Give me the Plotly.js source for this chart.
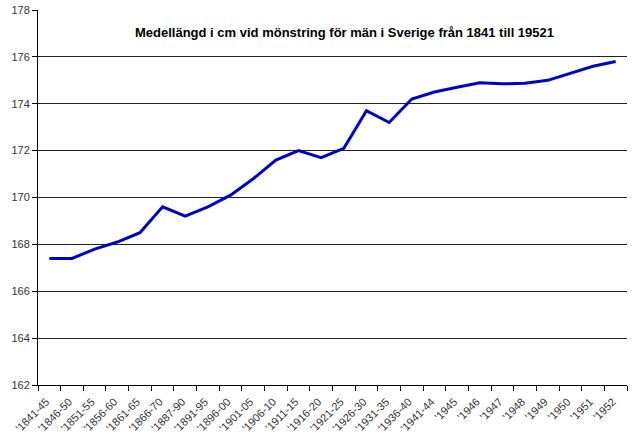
<!DOCTYPE html>
<html><head><meta charset="utf-8">
<script src="https://cdn.plot.ly/plotly-3.0.1.min.js"></script>
<style>body{margin:0;background:#fff}#c{width:640px;height:438px}</style>
</head><body><div id="c"></div>
<script>
const categories = ["'1841-45","'1846-50","'1851-55","'1856-60","'1861-65","'1866-70","'1887-90","'1891-95","'1896-00","'1901-05","'1906-10","'1911-15","'1916-20","'1921-25","'1926-30","'1931-35","'1936-40","'1941-44","'1945","'1946","'1947","'1948","'1949","'1950","'1951","'1952"];
const heights = [167.4,167.4,167.8,168.1,168.5,169.6,169.2,169.6,170.1,170.8,171.6,172.0,171.7,172.1,173.7,173.2,174.2,174.5,174.7,174.9,174.85,174.87,175.0,175.3,175.6,175.8];
const yTicks = [162,164,166,168,170,172,174,176,178];
const titleText = "Medellängd i cm vid mönstring för män i Sverige från 1841 till 19521";

Plotly.newPlot('c', [{
  x: categories, y: heights, type: 'scatter', mode: 'lines',
  line: {color: '#0000cc', width: 3}, hoverinfo: 'skip'
}], {
  width: 640, height: 438,
  margin: {l: 38, r: 13, t: 10, b: 53},
  paper_bgcolor: '#fff', plot_bgcolor: '#fff',
  font: {family: 'Liberation Sans, Arial, sans-serif', size: 11, color: '#333'},
  showlegend: false,
  xaxis: {
    type: 'category', tickangle: -45, tickson: 'boundaries',
    ticks: 'outside', ticklen: 5, tickcolor: '#000',
    ticklabelstandoff: 5, ticklabelshift: -3,
    showline: true, linecolor: '#000', linewidth: 1,
    showgrid: false, zeroline: false, automargin: false,
    tickfont: {size: 11, color: '#333'},
    range: [-0.5, categories.length - 0.5]
  },
  yaxis: {
    range: [162, 178], tickvals: yTicks, ticks: 'outside', ticklen: 5, tickcolor: '#000',
    showline: true, linecolor: '#000', linewidth: 1,
    showgrid: true, gridcolor: '#222', gridwidth: 1, zeroline: false, automargin: false,
    tickfont: {size: 11, color: '#333'}
  },
  annotations: [{
    text: '<b>' + titleText + '</b>', xref: 'paper', yref: 'paper',
    x: 0.52, y: 0.94, xanchor: 'center', yanchor: 'middle', showarrow: false,
    font: {size: 13, color: '#000'}
  }]
}, {displayModeBar: false, staticPlot: true});
</script></body></html>
